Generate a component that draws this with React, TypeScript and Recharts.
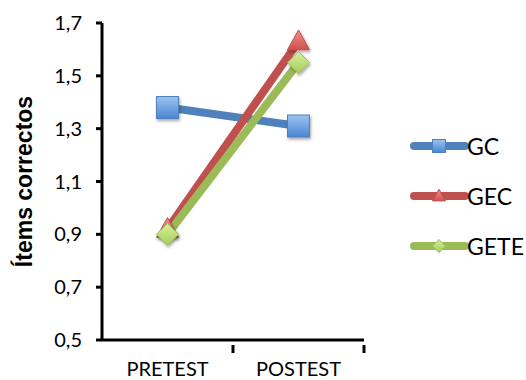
import { LineChart, Line, XAxis, YAxis } from 'recharts'

const categories = ['PRETEST', 'POSTEST']
const gcValues = [1.38, 1.31]
const gecValues = [0.92, 1.63]
const geteValues = [0.9, 1.55]
const yTicks = [0.5, 0.7, 0.9, 1.1, 1.3, 1.5, 1.7]

const data = categories.map((name, i) => ({
  name,
  GC: gcValues[i],
  GEC: gecValues[i],
  GETE: geteValues[i],
}))

const series = [
  { key: 'GC', color: '#4F81BD', light: '#9CC3F2', dark: '#4A86D0', shape: 'square' },
  { key: 'GEC', color: '#C0504D', light: '#F28F8C', dark: '#D0504D', shape: 'triangle' },
  { key: 'GETE', color: '#9BBB59', light: '#D7F09A', dark: '#A6CC5C', shape: 'diamond' },
]

function Marker({ cx, cy, shape, id, size, color, shadow = true }: any) {
  const s = size / 2
  const fill = `url(#grad-${id})`
  const filter = shadow ? 'url(#shadow)' : undefined
  if (shape === 'square') {
    return <rect x={cx - s} y={cy - s} width={size} height={size} fill={fill} stroke={color} strokeWidth={1} filter={filter} />
  }
  if (shape === 'triangle') {
    const pts = `${cx},${cy - s * 1.05} ${cx + s},${cy + s * 0.75} ${cx - s},${cy + s * 0.75}`
    return <polygon points={pts} fill={fill} stroke={color} strokeWidth={1} filter={filter} />
  }
  const pts = `${cx},${cy - s} ${cx + s},${cy} ${cx},${cy + s} ${cx - s},${cy}`
  return <polygon points={pts} fill={fill} stroke={color} strokeWidth={1} filter={filter} />
}

// category label plus a tick mark on the right edge of its band
function CategoryTick({ x, y, payload }: any) {
  const half = payload && payload.offset ? payload.offset : 65.5
  return (
    <g>
      <line x1={x + half} y1={y - 15} x2={x + half} y2={y - 7} stroke="#000" strokeWidth={3} />
      <text x={x} y={y} dy={16} textAnchor="middle" fontFamily="Lato" fontSize={20} fill="#000">
        {payload.value}
      </text>
    </g>
  )
}

function LegendBox() {
  return (
    <div style={{ position: 'absolute', left: 408, top: 133, display: 'flex', flexDirection: 'column', gap: 24 }}>
      {series.map((s) => (
        <div key={s.key} style={{ display: 'flex', alignItems: 'center', height: 26 }}>
          <svg width={62} height={26}>
            <line x1={6} y1={13} x2={57} y2={13} stroke={s.color} strokeWidth={8} strokeLinecap="round" />
            <Marker cx={31} cy={13} shape={s.shape} id={s.key} size={13} color={s.color} shadow={false} />
          </svg>
          <span style={{ fontFamily: 'Lato', fontSize: 23, color: '#000', marginLeft: -3 }}>{s.key}</span>
        </div>
      ))}
    </div>
  )
}

export default function App() {
  return (
    <div style={{ position: 'absolute', left: 0, top: 0, width: 526, height: 380, background: '#fff' }}>
      <LineChart width={526} height={380} data={data} margin={{ top: 23, right: 162, bottom: 0, left: 0 }}>
        <defs>
          {series.map((s) => (
            <linearGradient key={s.key} id={`grad-${s.key}`} x1="0" y1="0" x2="0" y2="1">
              <stop offset="0%" stopColor={s.light} />
              <stop offset="100%" stopColor={s.dark} />
            </linearGradient>
          ))}
          <filter id="shadow" x="-50%" y="-50%" width="200%" height="200%">
            <feDropShadow dx="1" dy="2" stdDeviation="1.5" floodColor="#000" floodOpacity="0.35" />
          </filter>
        </defs>
        <XAxis
          dataKey="name"
          scale="band"
          height={40}
          axisLine={{ stroke: '#000', strokeWidth: 3 }}
          tickLine={false}
          tickMargin={14}
          tick={<CategoryTick />}
        />
        <YAxis
          width={102}
          domain={[0.5, 1.7]}
          ticks={yTicks}
          interval={0}
          tickFormatter={(v: number) => v.toFixed(1).replace('.', ',')}
          axisLine={{ stroke: '#000', strokeWidth: 3 }}
          tickLine={{ stroke: '#000', strokeWidth: 3 }}
          tickSize={6}
          tickMargin={14}
          tick={{ fontFamily: 'Lato', fontSize: 20, fill: '#000' }}
          label={{
            value: 'Ítems correctos',
            angle: -90,
            position: 'insideLeft',
            offset: 24,
            style: { fontFamily: 'Liberation Sans', fontWeight: 'bold', fontSize: 23, fill: '#000', textAnchor: 'middle' },
          }}
        />
        {series.map((s) => (
          <Line
            key={s.key}
            dataKey={s.key}
            stroke={s.color}
            strokeWidth={8}
            isAnimationActive={false}
            activeDot={false}
            dot={(p: any) => (
              <Marker
                key={`${s.key}-${p.index}`}
                cx={p.cx}
                cy={p.cy}
                shape={s.shape}
                id={s.key}
                size={22}
                color={s.color}
              />
            )}
          />
        ))}
      </LineChart>
      <LegendBox />
    </div>
  )
}
